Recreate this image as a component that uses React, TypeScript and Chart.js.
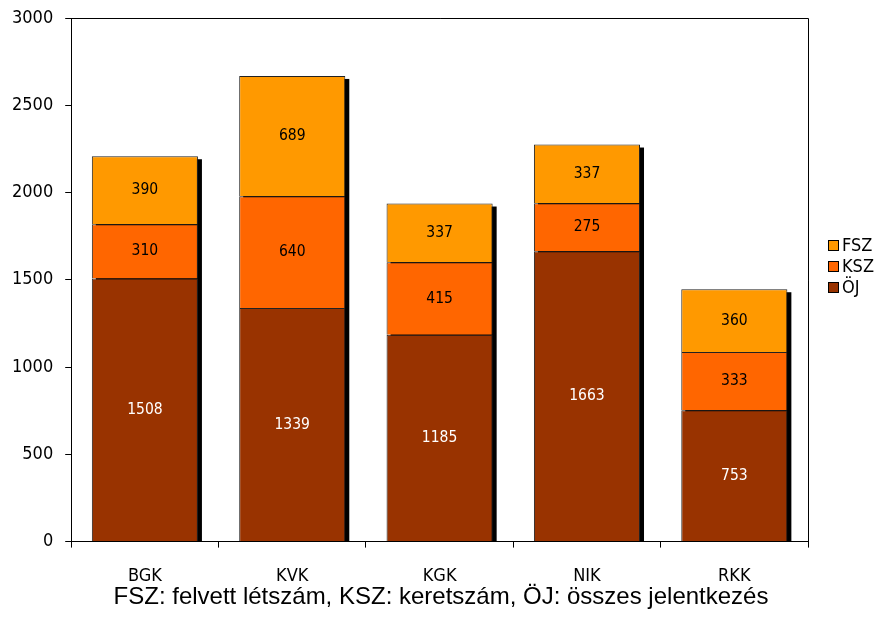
import React, { useEffect, useRef } from "react";
import { Chart, registerables } from "chart.js";

Chart.register(...registerables);

const categories = ["BGK", "KVK", "KGK", "NIK", "RKK"];
const ojValues = [1508, 1339, 1185, 1663, 753];
const kszValues = [310, 640, 415, 275, 333];
const fszValues = [390, 689, 337, 337, 360];
const yTicks = [0, 500, 1000, 1500, 2000, 2500, 3000];
const caption = "FSZ: felvett létszám, KSZ: keretszám, ÖJ: összes jelentkezés";

const COLORS = { oj: "#993300", ksz: "#FF6600", fsz: "#FF9900" };
const TICK_FONT = "'DejaVu Sans Condensed', 'DejaVu Sans', Tahoma, sans-serif";

const shadowPlugin = {
  id: "barShadow",
  beforeDatasetsDraw(chart: any) {
    const ctx = chart.ctx;
    const n = chart.data.labels.length;
    const area = chart.chartArea;
    const topMeta = chart.getDatasetMeta(chart.data.datasets.length - 1);
    const baseMeta = chart.getDatasetMeta(0);
    ctx.save();
    ctx.beginPath();
    ctx.rect(area.left, area.top - 5, area.right - area.left + 10, area.bottom - area.top + 5);
    ctx.clip();
    ctx.fillStyle = "#000";
    for (let i = 0; i < n; i++) {
      const topEl: any = topMeta.data[i];
      const baseEl: any = baseMeta.data[i];
      const w = topEl.width;
      const left = topEl.x - w / 2;
      const top = topEl.y;
      const bottom = baseEl.base;
      ctx.fillRect(left + 4, top + 3, w, bottom - top);
    }
    ctx.restore();
  },
};

const frameAndLabelsPlugin = {
  id: "frameAndLabels",
  afterDatasetsDraw(chart: any) {
    const ctx = chart.ctx;
    const area = chart.chartArea;
    ctx.save();
    ctx.strokeStyle = "#000";
    ctx.lineWidth = 1;
    ctx.beginPath();
    ctx.moveTo(area.left + 0.5, area.top + 0.5);
    ctx.lineTo(area.right + 0.5, area.top + 0.5);
    ctx.lineTo(area.right + 0.5, area.bottom);
    ctx.stroke();
    ctx.font = `15.5px ${TICK_FONT}`;
    ctx.textAlign = "center";
    ctx.textBaseline = "middle";
    chart.data.datasets.forEach((ds: any, di: number) => {
      const meta = chart.getDatasetMeta(di);
      meta.data.forEach((el: any, i: number) => {
        const v = ds.data[i];
        const y = (el.y + el.base) / 2;
        ctx.fillStyle = ds.labelColor;
        ctx.fillText(String(v), el.x, y);
      });
    });
    ctx.restore();
  },
};

const legendPlugin = {
  id: "customLegend",
  afterDraw(chart: any) {
    const ctx = chart.ctx;
    const area = chart.chartArea;
    const items = [...chart.data.datasets].reverse();
    ctx.save();
    ctx.font = `18px ${TICK_FONT}`;
    ctx.textBaseline = "middle";
    ctx.textAlign = "left";
    const x = area.right + 20;
    const y0 = 245;
    items.forEach((ds: any, i: number) => {
      const y = y0 + i * 21;
      ctx.fillStyle = ds.backgroundColor;
      ctx.fillRect(x, y - 5, 11, 11);
      ctx.strokeStyle = "#000";
      ctx.lineWidth = 1;
      ctx.strokeRect(x + 0.5, y - 4.5, 10, 10);
      ctx.fillStyle = "#000";
      ctx.fillText(ds.label, x + 14, y + 1);
    });
    ctx.restore();
  },
};

export default function App() {
  const ref = useRef<HTMLCanvasElement>(null);
  useEffect(() => {
    if (!ref.current) return;
    const chart = new Chart(ref.current, {
      type: "bar",
      data: {
        labels: categories,
        datasets: [
          { label: "ÖJ", data: ojValues, backgroundColor: COLORS.oj, borderColor: "#222", borderWidth: 1, labelColor: "#fff" } as any,
          { label: "KSZ", data: kszValues, backgroundColor: COLORS.ksz, borderColor: "#222", borderWidth: 1, labelColor: "#000" } as any,
          { label: "FSZ", data: fszValues, backgroundColor: COLORS.fsz, borderColor: "#222", borderWidth: 1, labelColor: "#000" } as any,
        ],
      },
      options: {
        animation: false,
        responsive: true,
        maintainAspectRatio: false,
        layout: { padding: { left: 0, right: 0, top: 18, bottom: 0 } },
        datasets: { bar: { categoryPercentage: 0.72, barPercentage: 1 } },
        scales: {
          x: {
            stacked: true,
            grid: { display: true, drawOnChartArea: false, offset: true, tickLength: 6, color: "#000" },
            border: { display: true, color: "#000" },
            ticks: { color: "#000", font: { family: TICK_FONT, size: 18 }, padding: 18 },
          },
          y: {
            stacked: true,
            min: 0,
            max: 3000,
            afterBuildTicks: (axis: any) => {
              axis.ticks = yTicks.map((v) => ({ value: v }));
            },
            afterFit: (s: any) => {
              s.paddingTop = 0;
              s.paddingBottom = 0;
            },
            grid: { display: true, drawOnChartArea: false, tickLength: 6, color: "#000" },
            border: { display: true, color: "#000" },
            ticks: {
              color: "#000",
              font: { family: TICK_FONT, size: 18 },
              padding: 12,
              callback: (v: any) => String(v),
            },
          },
          yRight: {
            position: "right",
            display: true,
            min: 0,
            max: 3000,
            grid: { display: false },
            border: { display: false },
            ticks: { display: false },
            afterFit: (s: any) => {
              s.width = 74;
            },
          },
        },
        plugins: {
          legend: { display: false },
          tooltip: { enabled: false },
          title: {
            display: true,
            position: "bottom",
            text: caption,
            color: "#000",
            font: { family: "'Liberation Sans', Arial, sans-serif", size: 24, weight: "normal" },
            padding: { top: -22, bottom: 24 },
          },
        },
      },
      plugins: [shadowPlugin, frameAndLabelsPlugin, legendPlugin],
    });
    return () => chart.destroy();
  }, []);
  return (
    <div style={{ position: "fixed", left: 0, top: 0, width: 882, height: 636, background: "#fff" }}>
      <canvas ref={ref} />
    </div>
  );
}
